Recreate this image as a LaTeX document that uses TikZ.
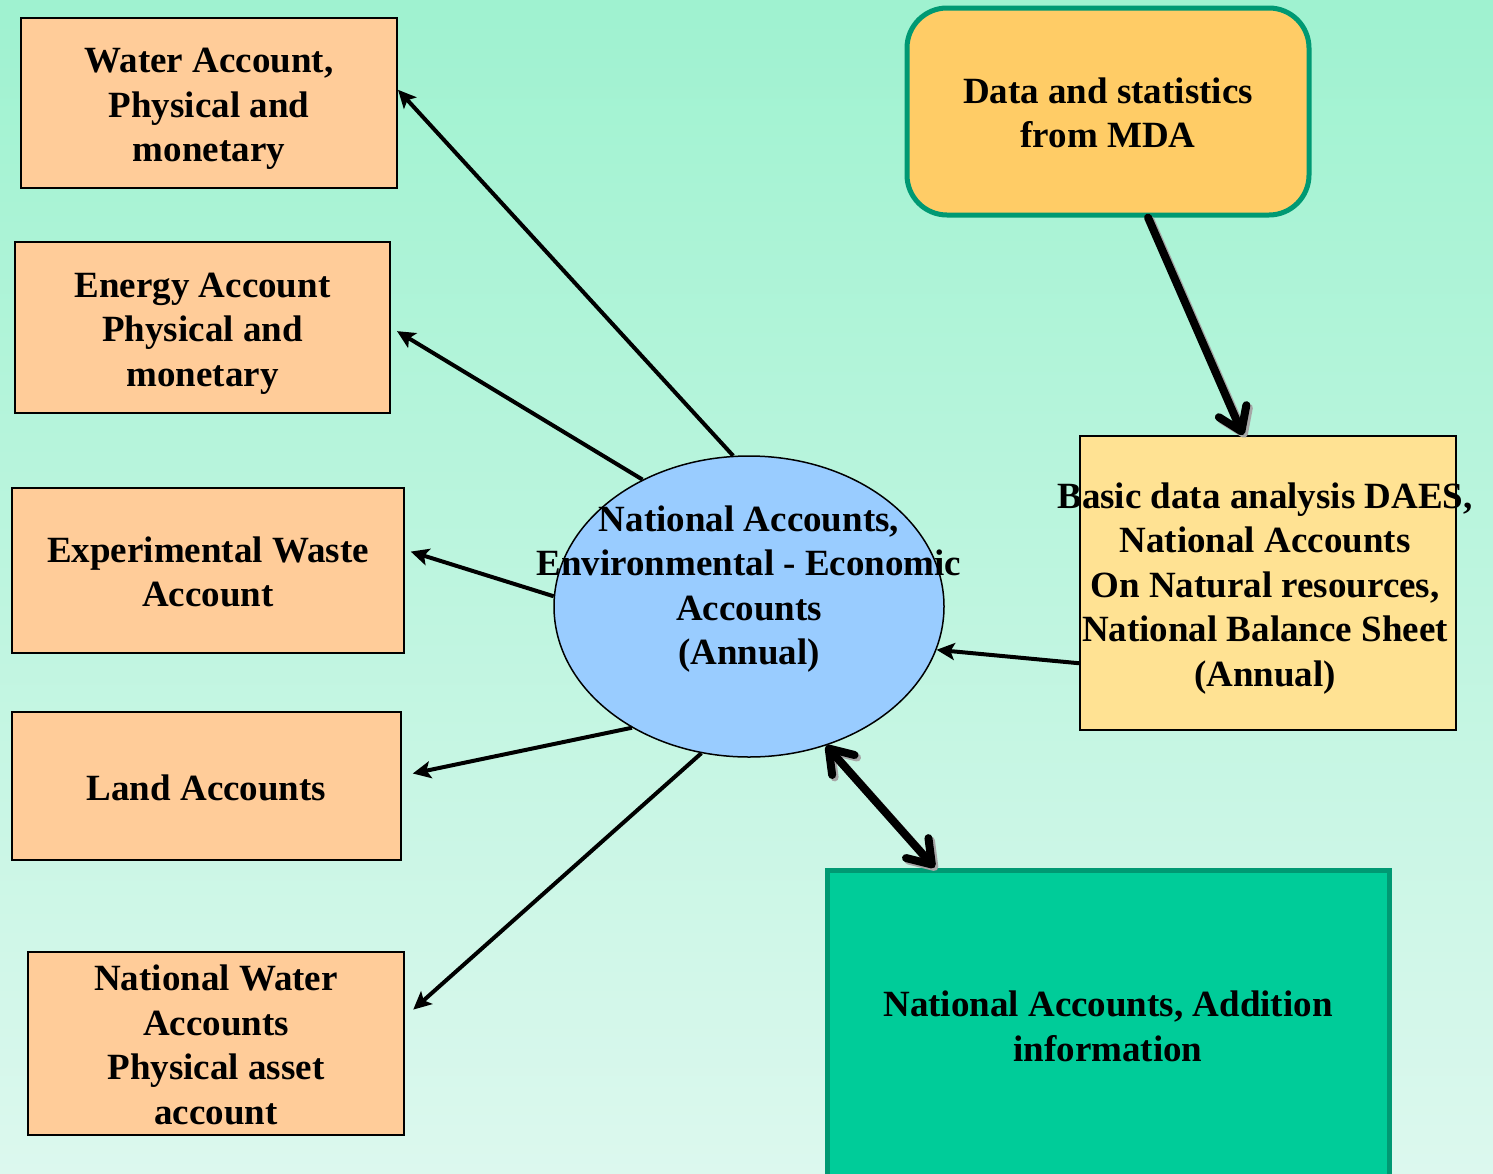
\documentclass[tikz,border=0pt]{standalone}
\usepackage{fontspec}
\setmainfont{Liberation Serif}
\usetikzlibrary{arrows.meta,calc,shapes.geometric}
\definecolor{bgtop}{HTML}{9FF2D0}
\definecolor{bgbot}{HTML}{DCF8EE}
\definecolor{peach}{HTML}{FFCC99}
\definecolor{datafill}{HTML}{FFCC66}
\definecolor{teal}{HTML}{009973}
\definecolor{ellfill}{HTML}{99CCFF}
\definecolor{basicfill}{HTML}{FFE293}
\definecolor{nafill}{HTML}{00CC99}
\newcommand\myTop{\rule{0pt}{37pt}}
\newcommand\myBot{\rule[-9pt]{0pt}{9pt}}
\tikzset{
  txt/.style={font=\fontsize{37}{44.5}\selectfont\bfseries, align=center, inner sep=0pt},
  acct/.style={txt, draw=black, line width=2pt, fill=peach, rectangle},
  plainbox/.style={draw=black, line width=2pt, rectangle, inner sep=0pt},
  thinarrow/.style={line width=4pt, -{Stealth[length=18pt,width=17pt,inset=4pt]}},
  thickline/.style={line width=8pt, line cap=round, line join=round},
  mybarb/.tip={Straight Barb[length=22pt,width=30pt,round]},
}
\begin{document}
\begin{tikzpicture}[x=1pt,y=-1pt]
\useasboundingbox (0,0) rectangle (1493,1173);
\shade[top color=bgtop, bottom color=bgbot] (0,0) rectangle (1493,1173);

% left account boxes
\node[acct, minimum width=376pt, minimum height=170pt] (water) at (209,103)
  {\myTop Water Account,\\Physical and\\monetary\myBot};
\node[acct, minimum width=375pt, minimum height=171pt] (energy) at (202.5,327.5)
  {\myTop Energy Account\\Physical and\\monetary\myBot};
\node[acct, minimum width=392pt, minimum height=165pt] (waste) at (208,570.5)
  {\myTop Experimental Waste\\Account\myBot};
\node[acct, minimum width=389pt, minimum height=148pt] (land) at (206.5,786)
  {\myTop Land Accounts\myBot};
\node[acct, minimum width=376pt, minimum height=183pt] (nwater) at (216,1043.5)
  {\myTop National Water\\Accounts\\Physical asset\\account\myBot};

% data box
\node[txt, draw=teal, line width=5pt, fill=datafill, rounded corners=40pt,
  minimum width=402pt, minimum height=207pt] (data) at (1108,111.5)
  {\myTop Data and statistics\\from MDA\myBot};

% central ellipse
\node[ellipse, draw=black, line width=1.5pt, fill=ellfill, inner sep=0pt,
  minimum width=390pt, minimum height=301pt] (ell) at (749,606.5) {};
\node[txt] (ellT) at (749,584)
  {\myTop National Accounts,\\Environmental - Economic\\Accounts\\(Annual)\myBot};

% basic data box
\node[plainbox, fill=basicfill, minimum width=376pt, minimum height=294pt] (basic) at (1268,583) {};
\node[txt] (basicT) at (1265,583)
  {\myTop Basic data analysis DAES,\\National Accounts\\On Natural resources,\\National Balance Sheet\\(Annual)\myBot};

% national accounts addition box
\node[rectangle, draw=teal, line width=5pt, fill=nafill, inner sep=0pt,
  minimum width=562pt, minimum height=330pt] (naadd) at (1108,1035) {};
\node[txt] (naT) at (1108,1025) {\myTop National Accounts, Addition\\information\myBot};

% thin arrows
\draw[thinarrow] (ell.96) -- (water.4.6);
\draw[thinarrow, shorten >=7pt] (ell.130.7) -- (energy.east);
\draw[thinarrow, shorten >=6pt] (ell.177.5) -- (waste.6);
\draw[thinarrow, shorten >=11pt] (ell.226.8) -- (land.3.2);
\draw[thinarrow, shorten >=11pt] (ell.252.35) -- (nwater.8.7);
\draw[thinarrow] (basic.203.4) -- (ell.347.9);

% thick arrows with shadow
\coordinate (dstart) at ($(data.south)+(40,0)$);
\coordinate (dend) at ($(basic.north)+(-25,0)$);
\draw[thickline, gray!70, -{mybarb}, transform canvas={shift={(2.5pt,-2.5pt)}}] (dstart) -- (dend);
\draw[thickline, -{mybarb}] (dstart) -- (dend);

\coordinate (bstart) at (ell.299.8);
\coordinate (bend) at ($(naadd.north west)+(110,0)$);
\draw[thickline, gray!70, {mybarb}-{mybarb}, transform canvas={shift={(2.5pt,-2.5pt)}}] (bstart) -- (bend);
\draw[thickline, {mybarb}-{mybarb}] (bstart) -- (bend);
\end{tikzpicture}
\end{document}
